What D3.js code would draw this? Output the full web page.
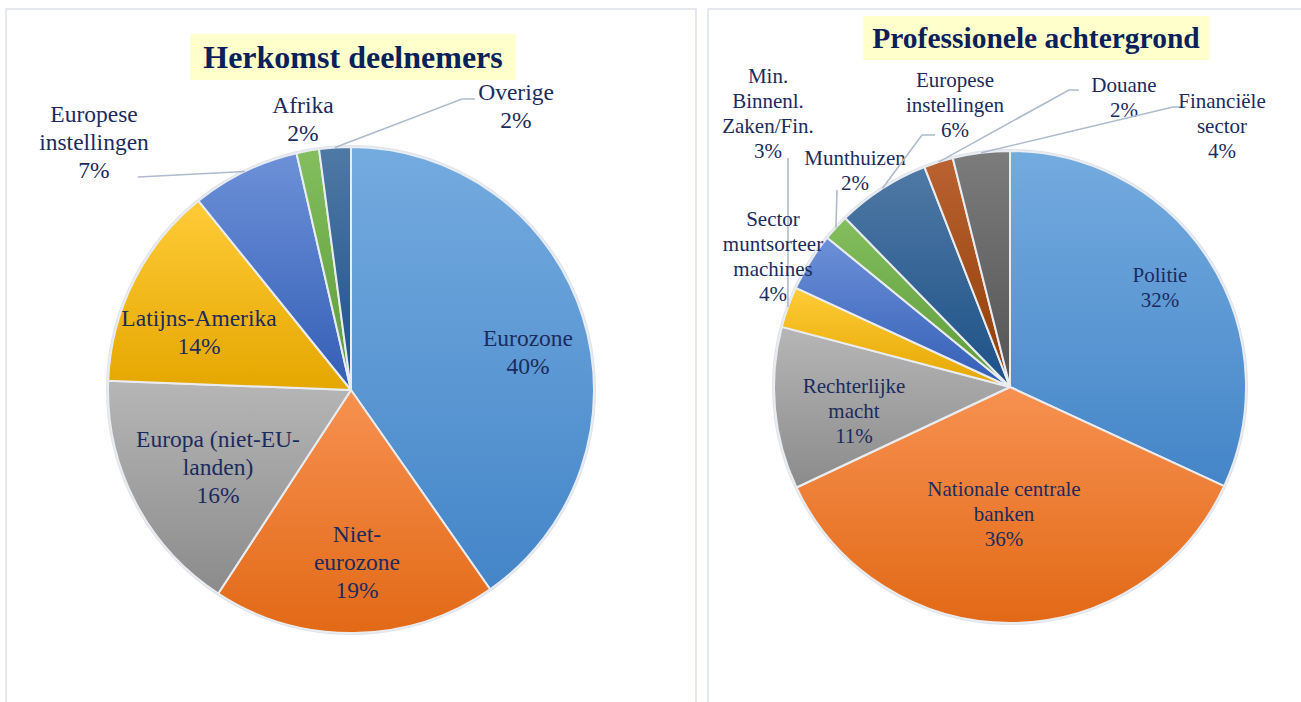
<!DOCTYPE html>
<html>
<head>
<meta charset="utf-8">
<script src="https://cdn.jsdelivr.net/npm/d3@7"></script>
<style>
  body { margin: 0; background: #fff; }
  svg { display: block; }
</style>
</head>
<body>
<svg id="canvas" width="1301" height="702"></svg>
<script>
// DATA
const originCategories = ["Eurozone", "Niet-\neurozone", "Europa (niet-EU-\nlanden)", "Latijns-Amerika",
  "Europese\ninstellingen", "Afrika", "Overige"];
const originValues = [40.3, 18.9, 16.4, 13.6, 7.2, 1.5, 2.1];

const backgroundCategories = ["Politie", "Nationale centrale\nbanken", "Rechterlijke\nmacht",
  "Min.\nBinnenl.\nZaken/Fin.", "Sector\nmuntsorteer\nmachines", "Munthuizen",
  "Europese\ninstellingen", "Douane", "Financiële\nsector"];
const backgroundValues = [31.9, 36.1, 11.1, 2.8, 4.0, 1.8, 6.4, 2.0, 3.9];

const serif = "'Liberation Serif', 'Times New Roman', Times, serif";

// gradient stops (top, bottom) per theme colour
const palette = {
  blue1: ["#74abdf", "#4485c8"],
  orange: ["#f79151", "#e26916"],
  gray: ["#b6b6b6", "#8b8b8b"],
  gold: ["#ffcb38", "#e5a700"],
  blue2: ["#6d91d8", "#335eb6"],
  green: ["#84be5e", "#5c9a37"],
  navy: ["#4f79a5", "#1d5187"],
  brown: ["#ba6231", "#8f3d06"],
  dgray: ["#7c7c7c", "#535353"],
};

const svg = d3.select("#canvas");
const defs = svg.append("defs");
Object.entries(palette).forEach(([k, c]) => {
  const g = defs.append("linearGradient").attr("id", "g-" + k)
    .attr("x1", 0).attr("y1", 0).attr("x2", 0).attr("y2", 1);
  g.append("stop").attr("offset", "0%").attr("stop-color", c[0]);
  g.append("stop").attr("offset", "100%").attr("stop-color", c[1]);
});

// panels
svg.append("rect").attr("x", 6).attr("y", 9).attr("width", 690).attr("height", 760)
  .attr("fill", "none").attr("stroke", "#dde1e8").attr("stroke-width", 1.5);
svg.append("rect").attr("x", 708).attr("y", 9).attr("width", 640).attr("height", 760)
  .attr("fill", "none").attr("stroke", "#dde1e8").attr("stroke-width", 1.5);

const labelColor = "#1c2b5e";

function pieChart(opts) {
  const g = svg.append("g").attr("transform", `translate(${opts.cx},${opts.cy})`);
  const total = d3.sum(opts.values);
  const rows = opts.categories.map((c, i) => ({ name: c, value: opts.values[i], i }));
  const arcs = d3.pie().sort(null).value(d => d.value)(rows);
  const arc = d3.arc().innerRadius(0).outerRadius(opts.r);
  const edge = d3.arc().innerRadius(opts.r).outerRadius(opts.r);

  g.append("circle").attr("r", opts.r + 1).attr("fill", "none").attr("stroke", "#dfe3ea").attr("stroke-width", 2);

  g.selectAll("path.slice").data(arcs).join("path")
    .attr("class", "slice")
    .attr("d", arc)
    .attr("fill", d => `url(#g-${opts.colors[d.index]})`)
    .attr("stroke", "#e9edf2")
    .attr("stroke-width", 2)
    .attr("stroke-linejoin", "round");

  const fmt = d3.format(".0%");

  arcs.forEach(d => {
    const lay = opts.layout[d.index];
    if (lay.leader) {
      const p0 = edge.centroid(d);
      const pts = [p0].concat(lay.leader);
      g.append("path").attr("d", d3.line()(pts))
        .attr("fill", "none").attr("stroke", "#aebbcc").attr("stroke-width", 1.6);
    }
    const lines = d.data.name.split("\n").concat([fmt(d.data.value / total)]);
    const t = g.append("text")
      .attr("text-anchor", "middle")
      .attr("fill", labelColor)
      .attr("font-family", serif)
      .attr("font-size", opts.fontSize);
    const y0 = lay.at[1] - (lines.length - 1) * opts.lineH / 2;
    lines.forEach((ln, k) => {
      t.append("tspan").attr("x", lay.at[0]).attr("y", y0 + k * opts.lineH)
        .attr("dy", "0.35em").text(ln);
    });
  });

  // title
  const tg = svg.append("g");
  const title = tg.append("text")
    .attr("x", opts.title.x).attr("y", opts.title.y)
    .attr("text-anchor", "middle").attr("dy", "0.35em")
    .attr("font-family", serif)
    .attr("font-weight", "bold").attr("font-size", opts.title.size)
    .attr("fill", "#0b1f5a").text(opts.title.text);
  const bb = title.node().getBBox();
  tg.insert("rect", "text")
    .attr("x", bb.x - opts.title.pad).attr("y", opts.title.y - opts.title.boxH / 2)
    .attr("width", bb.width + 2 * opts.title.pad).attr("height", opts.title.boxH)
    .attr("fill", "#ffffcc");
}

pieChart({
  cx: 351, cy: 390, r: 243,
  categories: originCategories,
  values: originValues,
  colors: ["blue1", "orange", "gray", "gold", "blue2", "green", "navy"],
  fontSize: 23.5, lineH: 28,
  title: { text: "Herkomst deelnemers", x: 353, y: 57, size: 32, boxH: 46, pad: 13 },
  layout: [
    { at: [177, -38] },
    { at: [6, 172] },
    { at: [-133, 77] },
    { at: [-152, -58] },
    { at: [-257, -248], leader: [[-213, -213]] },
    { at: [-48, -271] },
    { at: [165, -284], leader: [[111, -291], [124, -291]] },
  ],
});

pieChart({
  cx: 1010, cy: 387, r: 236,
  categories: backgroundCategories,
  values: backgroundValues,
  colors: ["blue1", "orange", "gray", "gold", "blue2", "green", "navy", "brown", "dgray"],
  fontSize: 21, lineH: 25,
  title: { text: "Professionele achtergrond", x: 1036, y: 38, size: 29.5, boxH: 44, pad: 9 },
  layout: [
    { at: [150, -100] },
    { at: [-6, 127] },
    { at: [-156, 24] },
    { at: [-242, -274], leader: [[-222, -229]] },
    { at: [-237, -131] },
    { at: [-155, -217], leader: [[-173, -197]] },
    { at: [-55, -282], leader: [[-88, -252], [-75, -252]] },
    { at: [114, -290], leader: [[59, -297], [69, -297]] },
    { at: [212, -261], leader: [[163, -280], [176, -280]] },
  ],
});
</script>
</body>
</html>
